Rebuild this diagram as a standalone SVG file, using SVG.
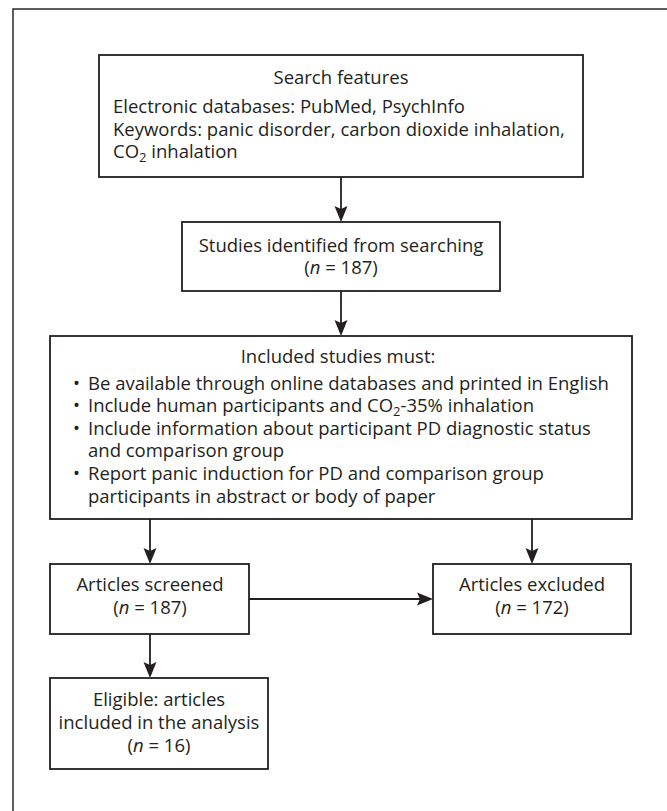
<svg xmlns="http://www.w3.org/2000/svg" width="667" height="811" viewBox="0 0 667 811">
<style>
  text { font-family: "Open Sans", "Noto Sans", "DejaVu Sans", sans-serif; font-size: 18.5px; fill: #231f20; }
  .c { text-anchor: middle; }
  .box { fill: #ffffff; stroke: #231f20; stroke-width: 1.8; }
  .conn { stroke: #231f20; stroke-width: 1.8; fill: none; marker-end: url(#ah); }
  .frame { stroke: #2a2a2a; stroke-width: 1.5; fill: none; }
  .sub { font-size: 13px; }
</style>
<defs>
  <marker id="ah" markerUnits="userSpaceOnUse" markerWidth="17" markerHeight="15" refX="13" refY="7.5" orient="auto">
    <path d="M0,1 L16,7.5 L0,14 L3,7.5 Z" fill="#231f20"/>
  </marker>
</defs>
<rect width="667" height="811" fill="#ffffff"/>
<path class="frame" d="M13,811 L13,9 L667,9"/>

<g id="search">
  <rect class="box" x="99" y="55" width="484" height="122"/>
  <text class="c" x="341" y="84">Search features</text>
  <text x="113" y="113">Electronic databases: PubMed, PsychInfo</text>
  <text x="113" y="136">Keywords: panic disorder, carbon dioxide inhalation,</text>
  <text x="113" y="158">CO<tspan class="sub" dy="4">2</tspan><tspan dy="-4"> inhalation</tspan></text>
</g>

<g id="identified">
  <rect class="box" x="182" y="222" width="318" height="69"/>
  <text class="c" x="341" y="252">Studies identified from searching</text>
  <text class="c" x="341" y="274">(<tspan font-style="italic">n</tspan> = 187)</text>
</g>

<g id="criteria">
  <rect class="box" x="50" y="336" width="582" height="183"/>
  <text class="c" x="338" y="363">Included studies must:</text>
  <text y="390"><tspan x="73">•</tspan><tspan x="88">Be available through online databases and printed in English</tspan></text>
  <text y="412"><tspan x="73">•</tspan><tspan x="88">Include human participants and CO</tspan><tspan class="sub" dy="4">2</tspan><tspan dy="-4">-35% inhalation</tspan></text>
  <text y="435"><tspan x="73">•</tspan><tspan x="88">Include information about participant PD diagnostic status</tspan></text>
  <text x="88" y="457">and comparison group</text>
  <text y="480"><tspan x="73">•</tspan><tspan x="88">Report panic induction for PD and comparison group</tspan></text>
  <text x="88" y="503">participants in abstract or body of paper</text>
</g>

<g id="screened">
  <rect class="box" x="50" y="564" width="199" height="70"/>
  <text class="c" x="150" y="591">Articles screened</text>
  <text class="c" x="150" y="614">(<tspan font-style="italic">n</tspan> = 187)</text>
</g>

<g id="excluded">
  <rect class="box" x="433" y="564" width="198" height="70"/>
  <text class="c" x="532" y="591">Articles excluded</text>
  <text class="c" x="532" y="614">(<tspan font-style="italic">n</tspan> = 172)</text>
</g>

<g id="eligible">
  <rect class="box" x="50" y="678" width="218" height="91"/>
  <text class="c" x="159" y="706">Eligible: articles</text>
  <text class="c" x="159" y="729">included in the analysis</text>
  <text class="c" x="159" y="752">(<tspan font-style="italic">n</tspan> = 16)</text>
</g>

<g id="connectors">
  <line class="conn" x1="341" y1="177" x2="341" y2="219"/>
  <line class="conn" x1="341" y1="291" x2="341" y2="333"/>
  <line class="conn" x1="150" y1="519" x2="150" y2="561"/>
  <line class="conn" x1="532" y1="519" x2="532" y2="561"/>
  <line class="conn" x1="150" y1="634" x2="150" y2="675"/>
  <line class="conn" x1="249" y1="599" x2="430" y2="599"/>
</g>
</svg>
